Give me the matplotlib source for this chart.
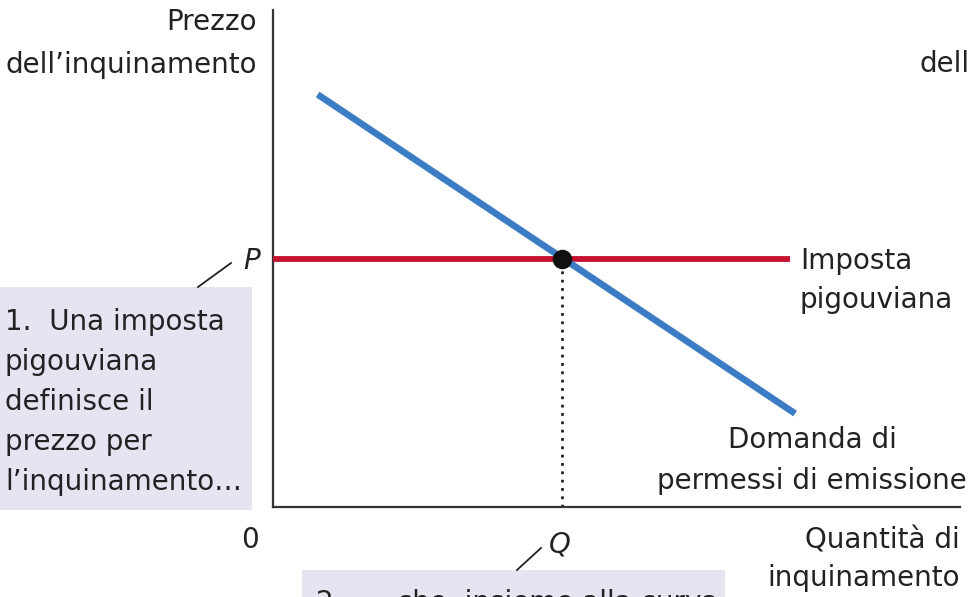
import matplotlib
matplotlib.use("Agg")
import matplotlib.pyplot as plt
from matplotlib import font_manager
from matplotlib.patches import Rectangle

# --- data -------------------------------------------------------------
tax_price = 50            # P: prezzo fissato dall'imposta pigouviana
quantity = 42             # Q: quantità di inquinamento risultante
demand_x = [6.5, 76.0]    # curva di domanda di permessi
demand_y = [83.0, 18.8]
tax_x = [0, 75.3]         # linea dell'imposta

# --- fonts ------------------------------------------------------------
names = {f.name for f in font_manager.fontManager.ttflist}
family = "Liberation Sans Narrow" if "Liberation Sans Narrow" in names else "DejaVu Sans"
plt.rcParams["font.family"] = [family, "DejaVu Sans"]
FS = 20
TXT = "#222222"

W, H = 969, 597
fig = plt.figure(figsize=(W / 100, H / 100), dpi=100)

# overlay in pixel coordinates for boxes and free text
ov = fig.add_axes([0, 0, 1, 1])
ov.set_xlim(0, W)
ov.set_ylim(H, 0)
ov.axis("off")

# main diagram
x0, y0, x1, y1 = 273, 507, 960, 10
ax = fig.add_axes([x0 / W, (H - y0) / H, (x1 - x0) / W, (y0 - y1) / H])
ax.set_xlim(0, 100)
ax.set_ylim(0, 100)
ax.patch.set_alpha(0)
for s in ("top", "right"):
    ax.spines[s].set_visible(False)
for s in ("left", "bottom"):
    ax.spines[s].set_linewidth(1.6)
    ax.spines[s].set_color("#333333")
ax.set_xticks([])
ax.set_yticks([])

ax.plot(tax_x, [tax_price, tax_price], color="#c41230", lw=4.2,
        solid_capstyle="butt", zorder=3, clip_on=False)
ax.plot(demand_x, demand_y, color="#3b7cc4", lw=4.8,
        solid_capstyle="butt", zorder=4)
ax.plot([quantity, quantity], [0, tax_price], color="#222222", lw=2,
        ls=(0, (1, 2)), zorder=2)
ax.plot([quantity], [tax_price], "o", color="#111111", ms=13, zorder=5)

# axis labels
ov.text(257, 22, "Prezzo", ha="right", va="center", fontsize=FS, color=TXT)
ov.text(257, 65, "dell\u2019inquinamento", ha="right", va="center", fontsize=FS, color=TXT)
ov.text(920, 45, "Prezzo\ndell\u2019inquinamento", ha="left", va="center",
        multialignment="right", fontsize=FS, color=TXT, linespacing=1.45)
ov.text(960, 540, "Quantità di", ha="right", va="center", fontsize=FS, color=TXT)
ov.text(960, 578, "inquinamento", ha="right", va="center", fontsize=FS, color=TXT)
ov.text(250, 540, "0", ha="center", va="center", fontsize=FS, color=TXT)

# P and Q markers on the axes
ax.text(-1.9, tax_price - 0.6, "P", ha="right", va="center", fontsize=FS,
        style="italic", color=TXT, clip_on=False)
ax.text(quantity - 0.3, -7.5, "Q", ha="center", va="center", fontsize=FS,
        style="italic", color=TXT, clip_on=False)

# curve labels
ov.text(800, 261, "Imposta", ha="left", va="center", fontsize=FS, color=TXT)
ov.text(800, 300, "pigouviana", ha="left", va="center", fontsize=FS, color=TXT)
ov.text(812, 440, "Domanda di", ha="center", va="center", fontsize=FS, color=TXT)
ov.text(812, 481, "permessi di emissione", ha="center", va="center", fontsize=FS, color=TXT)

# callout boxes
box_col = "#e6e4f1"
ov.add_patch(Rectangle((0, 287), 252, 223, facecolor=box_col, edgecolor="none", zorder=0))
ov.add_patch(Rectangle((302, 570), 423, 40, facecolor=box_col, edgecolor="none", zorder=0))
ov.plot([198, 231], [287, 263], color="#222222", lw=1.3)
ov.plot([517, 541], [570, 548], color="#222222", lw=1.3)

note1 = ["1.  Una imposta", "pigouviana", "definisce il", "prezzo per",
         "l\u2019inquinamento\u2026"]
for i, line in enumerate(note1):
    ov.text(5, 322 + i * 40, line, ha="left", va="center", fontsize=FS, color=TXT)
ov.text(316, 603, "2.  \u2026 che, insieme alla curva", ha="left", va="center",
        fontsize=FS, color=TXT, clip_on=True)

fig.savefig("out.png", dpi=100)
